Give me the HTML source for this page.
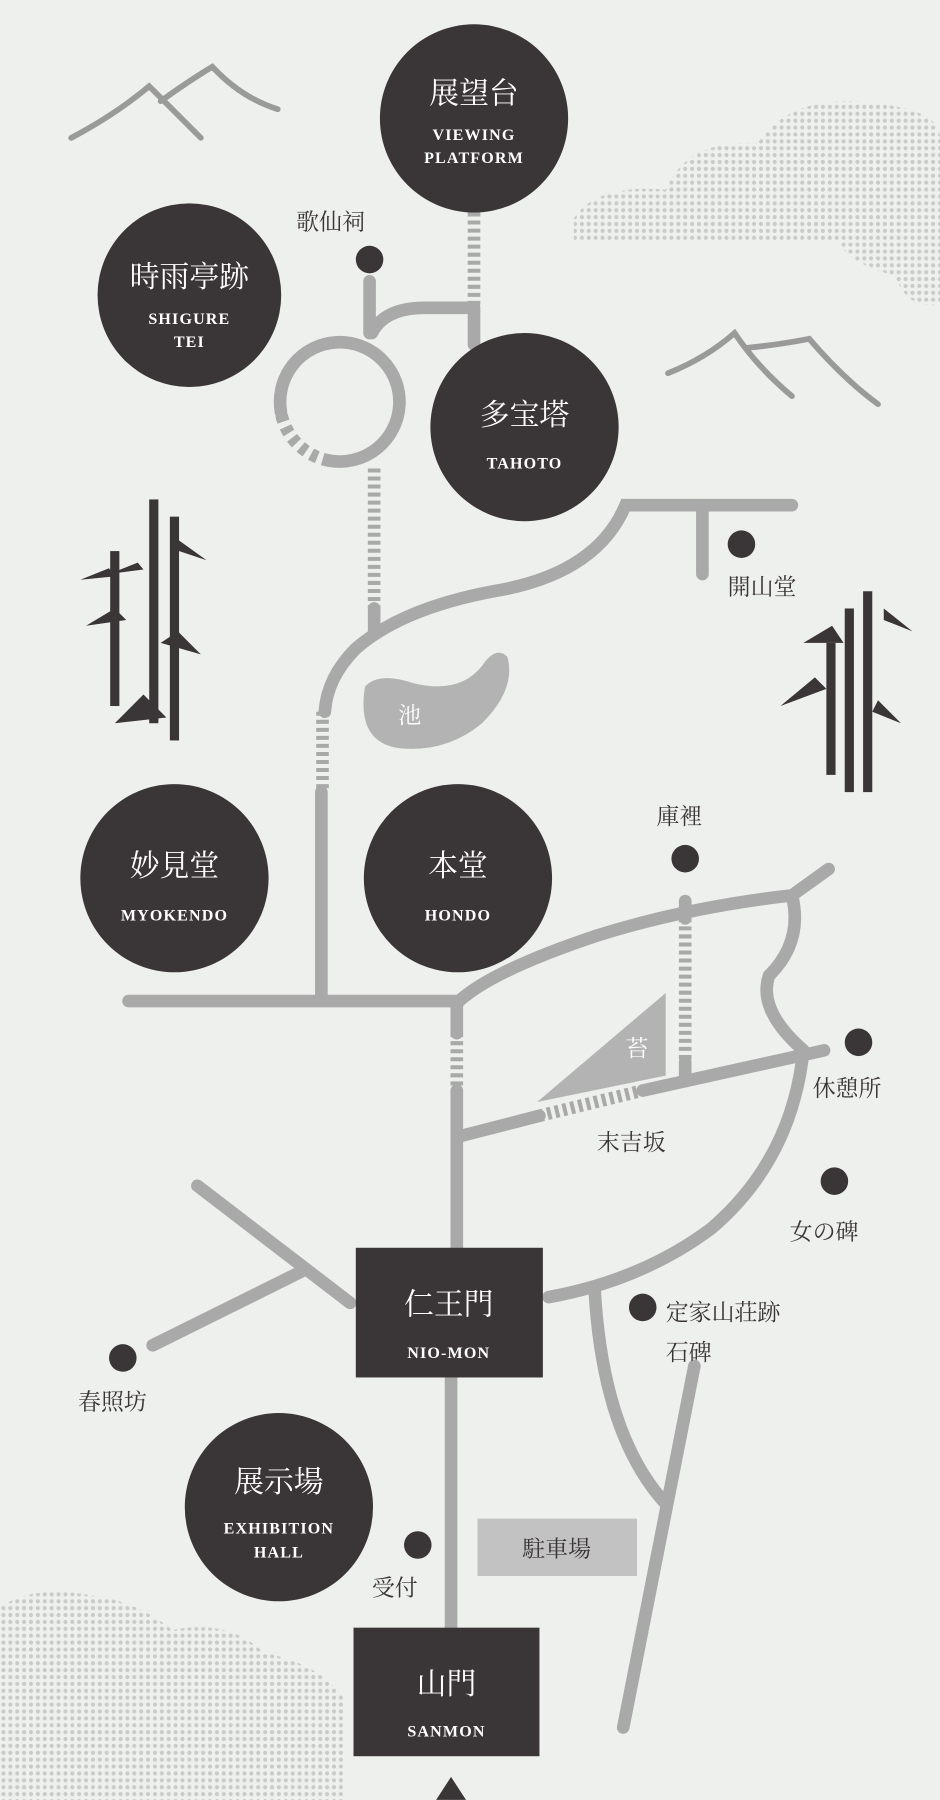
<!DOCTYPE html>
<html><head><meta charset="utf-8"><style>
html,body{margin:0;padding:0;background:#eef0ed;}
svg{display:block}
.jp{font-family:"Liberation Serif","Noto Serif CJK SC",serif;}
.en{font-family:"Liberation Serif",serif;font-weight:bold;letter-spacing:1px;}
</style></head><body>
<svg width="940" height="1800" viewBox="0 0 819 1568" xmlns="http://www.w3.org/2000/svg">
<defs>
<pattern id="dots" width="6" height="6" patternUnits="userSpaceOnUse"><circle cx="3" cy="3" r="1.8" fill="#c9cbc9"/></pattern>
</defs>
<rect width="819" height="1568" fill="#eef0ed"/>
<!-- clouds -->
<path d="M500,190 Q520,160 580,165 Q600,120 660,125 Q690,80 760,90 Q819,95 819,120 L819,265 Q790,270 780,240 Q740,230 730,210 L620,210 Q560,212 500,210 Z" fill="url(#dots)"/>
<path d="M0,1400 Q30,1380 80,1390 Q120,1395 150,1420 Q200,1410 230,1440 Q280,1450 300,1480 L300,1568 L0,1568 Z" fill="url(#dots)"/>
<!-- mountains -->
<g fill="none" stroke="#9a9a9a" stroke-width="5" stroke-linecap="round">
<path d="M62,120 Q100,100 130,75 Q150,95 175,120"/>
<path d="M140,88 Q165,70 185,58 Q210,85 242,95"/>
<path d="M582,325 Q615,312 640,290 Q660,320 690,345"/>
<path d="M650,303 Q680,300 705,295 Q735,330 765,352"/>
</g>
<!-- bamboo -->
<g fill="#3a3536">
<rect x="96" y="480" width="8" height="135"/><rect x="130" y="435" width="8" height="195"/><rect x="148" y="450" width="8" height="195"/>
<rect x="736" y="530" width="8" height="160"/><rect x="752" y="515" width="8" height="175"/><rect x="720" y="560" width="8" height="115"/>
<path d="M95,495 l-25,10 30,-3 z M120,490 l-25,10 l30,-4z M150,478 l30,10 -25,-18z M75,545 l25,-15 10,10z M140,560 l35,10 -20,-20z M100,630 l25,-25 20,20z M680,615 l30,-25 10,10z M700,560 l25,-15 10,15z M770,540 l25,10 -25,-20z M760,620 l25,10 -20,-20z"/>
</g>
<!-- roads -->
<g fill="none" stroke="#a9a9a9" stroke-width="11" stroke-linecap="round">
<line x1="413" y1="272" x2="413" y2="300"/>
<path d="M322,245 L322,290"/>
<path d="M324,290 Q335,268 370,268 L413,268"/>
<path d="M244.8,359 A52,52 0 1 1 287,401.2"/>
<line x1="326" y1="530" x2="326" y2="550"/>
<path d="M690,440 L545,440 Q520,500 430,515 Q350,530 310,565 Q285,590 283,620"/>
<line x1="612" y1="440" x2="612" y2="500"/>
<line x1="280" y1="690" x2="280" y2="870"/>
<line x1="112" y1="872" x2="400" y2="872"/>
<path d="M400,872 Q430,845 520,815 Q600,790 690,780 L722,757"/>
<path d="M690,780 Q700,820 670,850 Q660,880 700,915"/>
<line x1="597" y1="785" x2="597" y2="800"/>
<line x1="597" y1="925" x2="597" y2="940"/>
<path d="M400,990 L470,972"/>
<path d="M560,950 L718,915"/>
<line x1="398" y1="872" x2="398" y2="900"/>
<line x1="398" y1="950" x2="398" y2="1087"/>
<path d="M700,915 Q690,1010 620,1070 Q560,1115 478,1130"/>
<line x1="172" y1="1033" x2="305" y2="1135"/>
<line x1="262" y1="1108" x2="133" y2="1172"/>
<line x1="393" y1="1200" x2="393" y2="1418"/>
<path d="M518,1122 Q525,1250 580,1310"/>
<line x1="605" y1="1190" x2="543" y2="1505"/>
</g>
<!-- dashed segments -->
<g fill="none" stroke="#a9a9a9" stroke-width="11" stroke-dasharray="3.5 3.5">
<line x1="413" y1="185" x2="413" y2="272"/>
<line x1="326" y1="408" x2="326" y2="530"/>
<line x1="281" y1="620" x2="281" y2="690"/>
<line x1="597" y1="800" x2="597" y2="925"/>
<line x1="398" y1="900" x2="398" y2="950"/>
<line x1="470" y1="972" x2="560" y2="950"/>
</g>
<path d="M287,401.2 A52,52 0 0 1 244.8,359" fill="none" stroke="#a9a9a9" stroke-width="11" stroke-dasharray="6 5"/>
<!-- pond -->
<path d="M318,598 Q330,585 360,595 Q400,605 420,580 Q432,562 442,572 Q450,600 420,630 Q390,655 350,652 Q310,648 318,598 Z" fill="#b3b3b3"/>
<text x="347" y="630" class="jp" font-size="20" fill="#fff">池</text>
<!-- moss triangle -->
<polygon points="468,960 580,865 580,937" fill="#b3b3b3"/>
<text x="545" y="920" class="jp" font-size="20" fill="#fff">苔</text>
<!-- parking -->
<rect x="416" y="1323" width="139" height="50" fill="#c2c2c2"/>
<text x="485" y="1356" class="jp" font-size="20" fill="#3a3536" text-anchor="middle">駐車場</text>
<!-- big circles -->
<g fill="#3a3536">
<circle cx="413" cy="103" r="82"/><circle cx="165" cy="257" r="80"/><circle cx="457" cy="372" r="82"/>
<circle cx="152" cy="765" r="82"/><circle cx="399" cy="765" r="82"/><circle cx="243" cy="1313" r="82"/>
<rect x="310" y="1087" width="163" height="113"/><rect x="308" y="1418" width="162" height="112"/>
<polygon points="393,1548 380,1568 406,1568"/>
<circle cx="322" cy="226" r="12"/><circle cx="646" cy="474" r="12"/><circle cx="597" cy="748" r="12"/>
<circle cx="748" cy="908" r="12"/><circle cx="727" cy="1029" r="12"/><circle cx="560" cy="1139" r="12"/>
<circle cx="107" cy="1183" r="12"/><circle cx="364" cy="1346" r="12"/>
</g>
<g fill="#fff" text-anchor="middle">
<text x="413" y="90" class="jp" font-size="26">展望台</text>
<text x="413" y="122" class="en" font-size="14">VIEWING</text><text x="413" y="142" class="en" font-size="14">PLATFORM</text>
<text x="165" y="250" class="jp" font-size="26">時雨亭跡</text>
<text x="165" y="282" class="en" font-size="14">SHIGURE</text><text x="165" y="302" class="en" font-size="14">TEI</text>
<text x="457" y="370" class="jp" font-size="26">多宝塔</text><text x="457" y="408" class="en" font-size="14">TAHOTO</text>
<text x="152" y="763" class="jp" font-size="26">妙見堂</text><text x="152" y="802" class="en" font-size="14">MYOKENDO</text>
<text x="399" y="763" class="jp" font-size="26">本堂</text><text x="399" y="802" class="en" font-size="14">HONDO</text>
<text x="243" y="1300" class="jp" font-size="26">展示場</text>
<text x="243" y="1336" class="en" font-size="14">EXHIBITION</text><text x="243" y="1357" class="en" font-size="14">HALL</text>
<text x="391" y="1145" class="jp" font-size="26">仁王門</text><text x="391" y="1183" class="en" font-size="14">NIO-MON</text>
<text x="389" y="1476" class="jp" font-size="26">山門</text><text x="389" y="1513" class="en" font-size="14">SANMON</text>
</g>
<g fill="#3a3536" class="jp" font-size="20">
<text x="258" y="200">歌仙祠</text><text x="634" y="518">開山堂</text><text x="572" y="718">庫裡</text>
<text x="708" y="955">休憩所</text><text x="520" y="1002">末吉坂</text><text x="688" y="1080">女の碑</text>
<text x="580" y="1150">定家山荘跡</text><text x="580" y="1185">石碑</text>
<text x="68" y="1228">春照坊</text><text x="324" y="1390">受付</text>
</g>
</svg>
</body></html>
